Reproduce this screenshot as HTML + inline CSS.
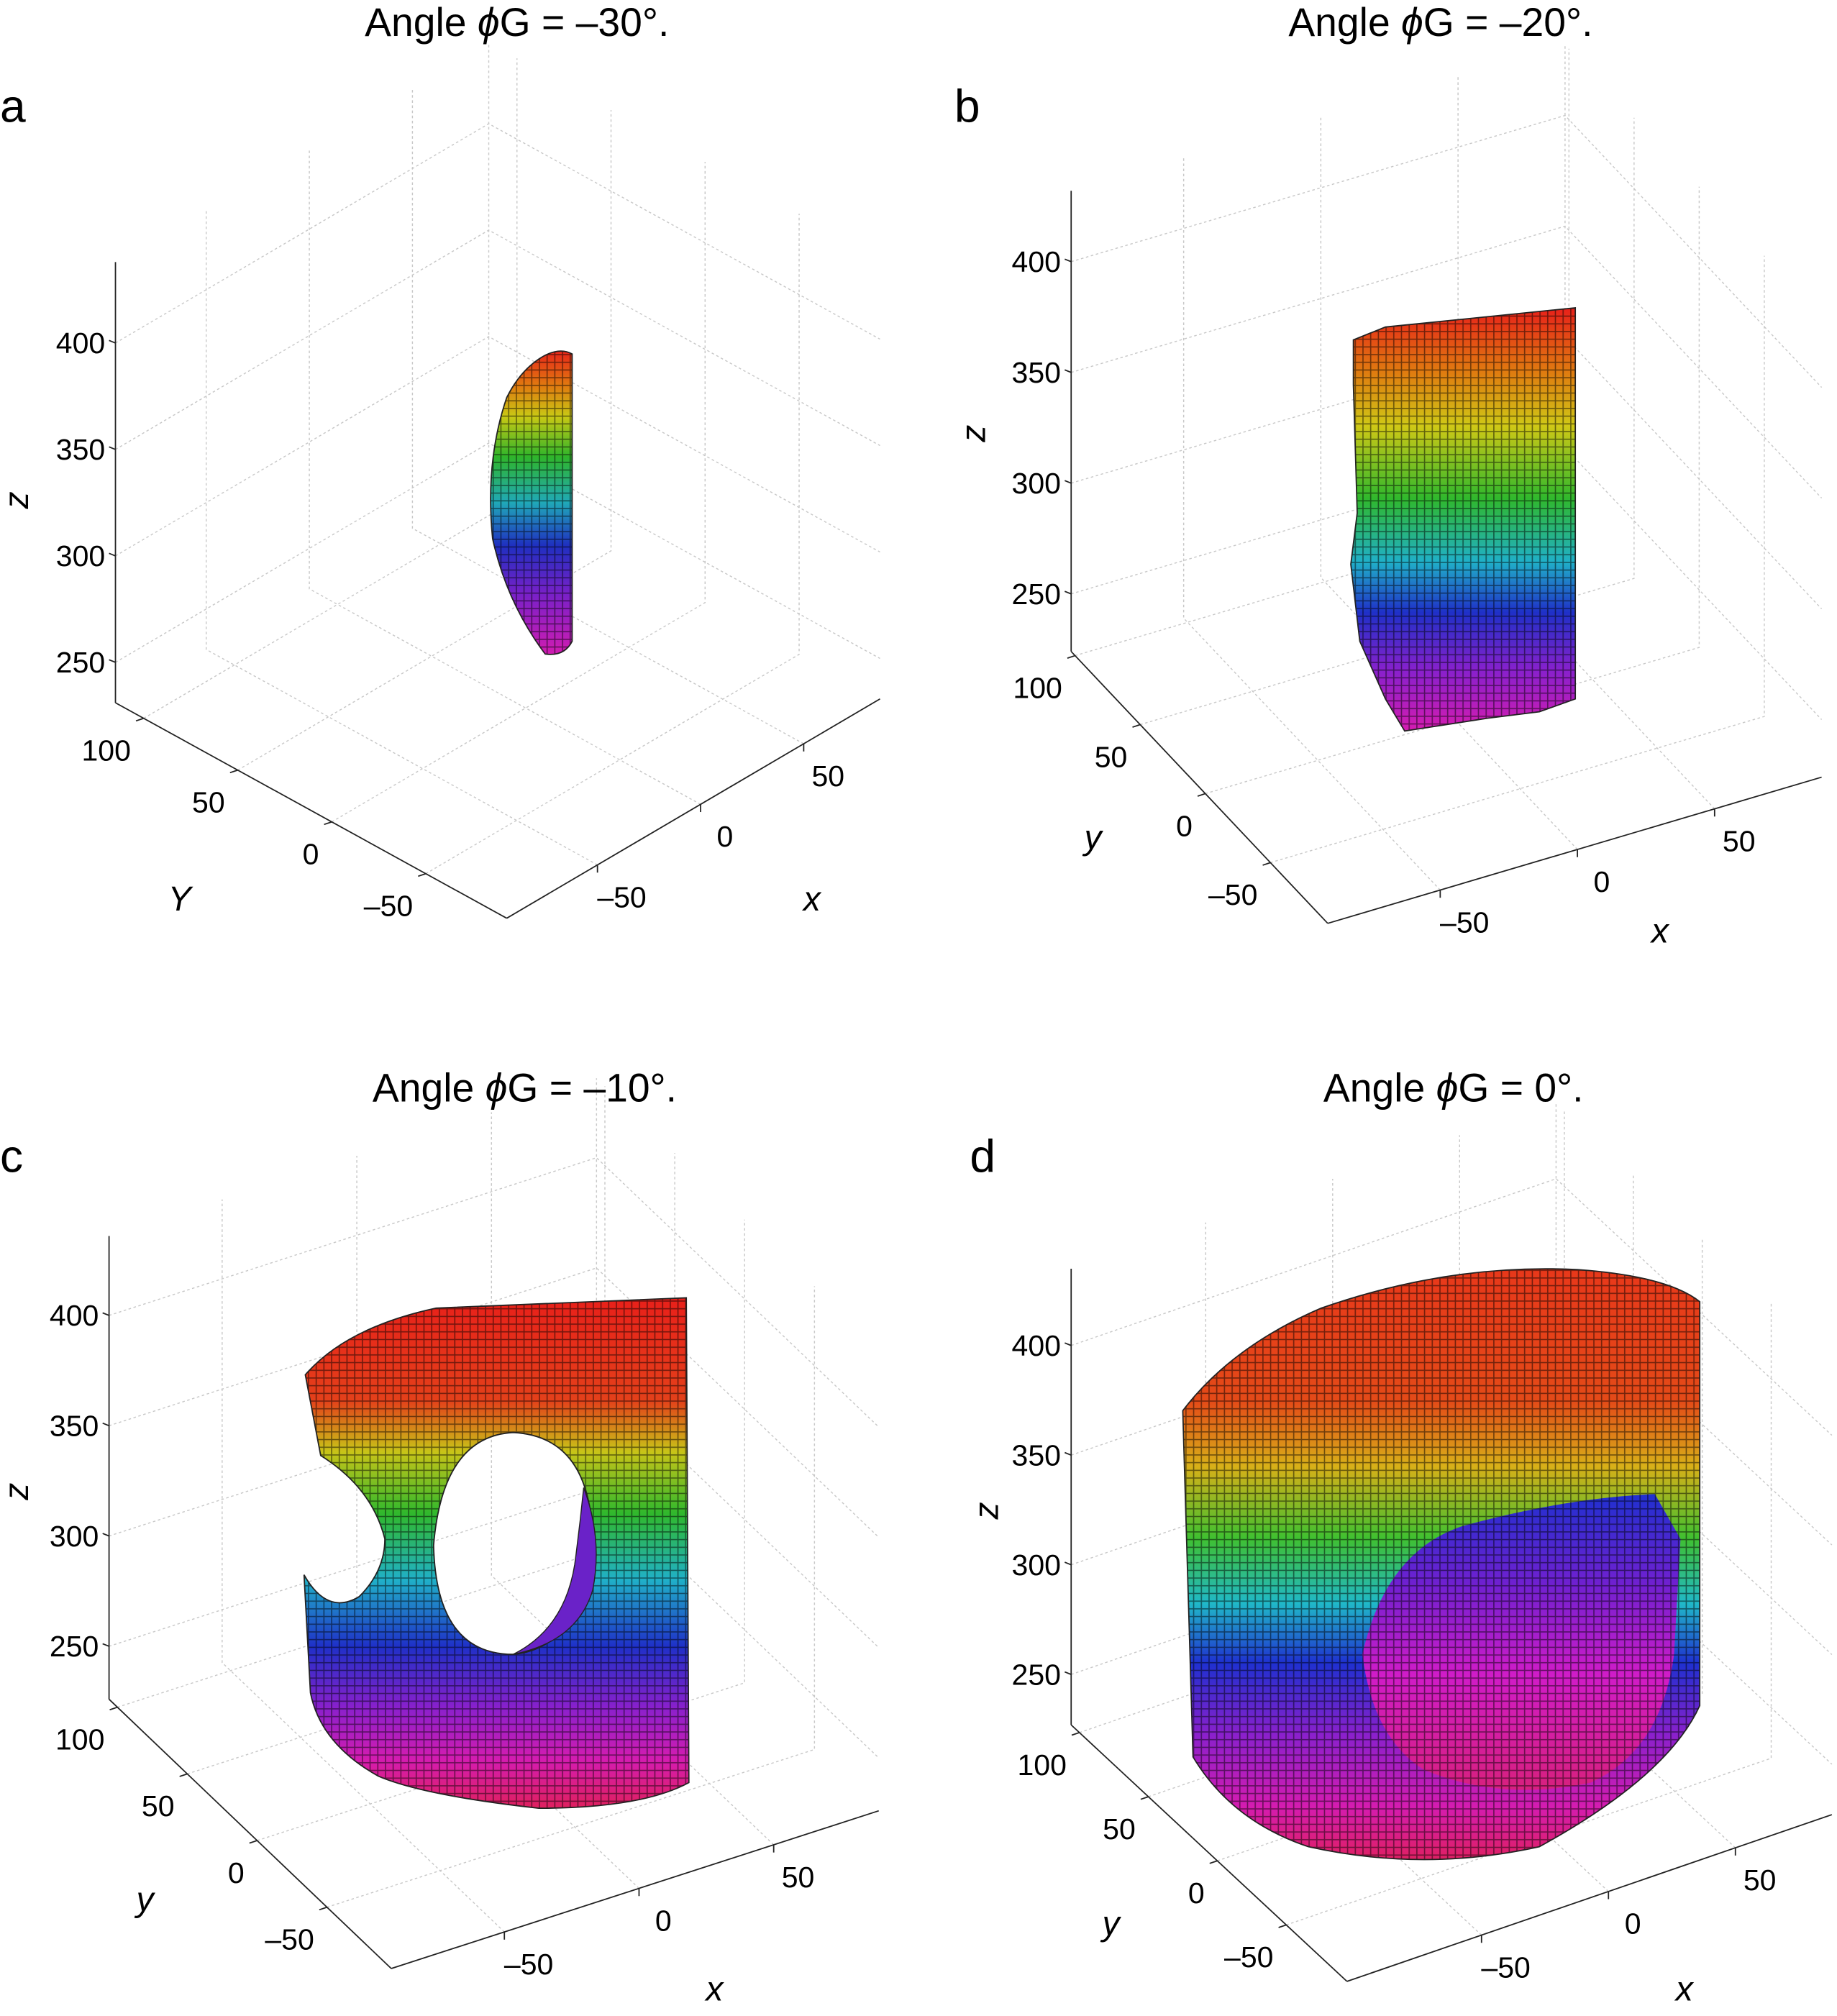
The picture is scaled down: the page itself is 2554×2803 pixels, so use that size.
<!DOCTYPE html>
<html><head><meta charset="utf-8"><style>
html,body{margin:0;padding:0;background:#fff}
svg{display:block}
text{font-family:"Liberation Sans",sans-serif;fill:#000}
</style></head><body>
<svg id="fig" width="2554" height="2803" viewBox="0 0 1432 1572" preserveAspectRatio="none" xmlns="http://www.w3.org/2000/svg">
<defs>
<pattern id="vox" width="6" height="6" patternUnits="userSpaceOnUse">
<path d="M0 0.5H6M0.5 0V6" stroke="#000" stroke-opacity="0.5" stroke-width="0.9" fill="none"/>
</pattern>
<linearGradient id="ga" gradientUnits="userSpaceOnUse" x1="0" y1="272" x2="0" y2="512">
<stop offset="0" stop-color="#e8201a"/><stop offset="0.12" stop-color="#e07a10"/><stop offset="0.22" stop-color="#c9c814"/><stop offset="0.35" stop-color="#2fb52a"/><stop offset="0.5" stop-color="#20a8b8"/><stop offset="0.64" stop-color="#1f2fc0"/><stop offset="0.8" stop-color="#7a20c8"/><stop offset="1" stop-color="#d41cb0"/>
</linearGradient>
<linearGradient id="gb" gradientUnits="userSpaceOnUse" x1="0" y1="240" x2="0" y2="570">
<stop offset="0" stop-color="#e8201a"/><stop offset="0.15" stop-color="#e07a10"/><stop offset="0.28" stop-color="#cfc816"/><stop offset="0.45" stop-color="#30b82c"/><stop offset="0.6" stop-color="#20b0c8"/><stop offset="0.72" stop-color="#1f30c8"/><stop offset="0.86" stop-color="#8a20cc"/><stop offset="1" stop-color="#d41cb0"/>
</linearGradient>
<linearGradient id="gc" gradientUnits="userSpaceOnUse" x1="0" y1="1012" x2="0" y2="1412">
<stop offset="0" stop-color="#e8201a"/><stop offset="0.2" stop-color="#e4401a"/><stop offset="0.3" stop-color="#c8c418"/><stop offset="0.42" stop-color="#30b82c"/><stop offset="0.55" stop-color="#20b0c8"/><stop offset="0.68" stop-color="#1f30c8"/><stop offset="0.8" stop-color="#8a20cc"/><stop offset="0.9" stop-color="#d41cb0"/><stop offset="1" stop-color="#e0205a"/>
</linearGradient>
<linearGradient id="gd" gradientUnits="userSpaceOnUse" x1="0" y1="990" x2="0" y2="1455">
<stop offset="0" stop-color="#e8381a"/><stop offset="0.22" stop-color="#e44a18"/><stop offset="0.33" stop-color="#d8b018"/><stop offset="0.45" stop-color="#40c030"/><stop offset="0.56" stop-color="#20b8c8"/><stop offset="0.66" stop-color="#1f30d0"/><stop offset="0.78" stop-color="#8a20cc"/><stop offset="0.9" stop-color="#d41cb0"/><stop offset="1" stop-color="#e0205a"/>
</linearGradient>
<linearGradient id="gd2" gradientUnits="userSpaceOnUse" x1="0" y1="1165" x2="0" y2="1400">
<stop offset="0" stop-color="#2030d0"/><stop offset="0.3" stop-color="#7020d0"/><stop offset="0.6" stop-color="#d01cc8"/><stop offset="1" stop-color="#d8207a"/>
</linearGradient>
</defs>
<g id="grids"></g>
<g id="shapes">
<g>
<path d="M420,280 Q435,270 446,276 L446,500 Q440,512 425,510 Q395,470 384,420 Q378,360 395,310 Q405,290 420,280 Z" fill="url(#ga)"/>
<path d="M420,280 Q435,270 446,276 L446,500 Q440,512 425,510 Q395,470 384,420 Q378,360 395,310 Q405,290 420,280 Z" fill="url(#vox)" stroke="#222" stroke-width="1"/>
</g>
<g>
<path d="M1055,265 L1080,255 L1228,240 L1228,545 L1200,555 L1160,560 L1095,570 L1080,545 L1060,500 L1053,440 L1058,400 L1055,300 Z" fill="url(#gb)"/>
<path d="M1055,265 L1080,255 L1228,240 L1228,545 L1200,555 L1160,560 L1095,570 L1080,545 L1060,500 L1053,440 L1058,400 L1055,300 Z" fill="url(#vox)" stroke="#222" stroke-width="1"/>
</g>
<g>
<path fill-rule="evenodd" d="M238,1072 Q270,1035 340,1020 L535,1012 L537,1390 Q500,1410 420,1410 Q330,1400 295,1385 Q250,1360 242,1320 L237,1228 Q255,1260 280,1245 Q300,1225 300,1200 Q290,1160 250,1135 L238,1072 Z M400,1117 Q460,1120 462,1200 Q455,1285 400,1290 Q340,1290 338,1205 Q345,1120 400,1117 Z" fill="url(#gc)"/>
<path d="M238,1072 Q270,1035 340,1020 L535,1012 L537,1390 Q500,1410 420,1410 Q330,1400 295,1385 Q250,1360 242,1320 L237,1228 Q255,1260 280,1245 Q300,1225 300,1200 Q290,1160 250,1135 L238,1072 Z M400,1117 Q460,1120 462,1200 Q455,1285 400,1290 Q340,1290 338,1205 Q345,1120 400,1117 Z" fill-rule="evenodd" fill="url(#vox)" stroke="#222" stroke-width="1"/>
<path d="M455,1160 Q470,1200 462,1240 Q450,1280 400,1290 Q440,1270 448,1220 Q452,1190 455,1160 Z" fill="#6a22c8" stroke="#222" stroke-width="0.8"/>
</g>
<g>
<path d="M922,1100 Q960,1050 1030,1020 Q1130,985 1230,990 Q1300,995 1325,1015 L1325,1330 Q1300,1385 1200,1440 Q1110,1460 1020,1440 Q960,1420 930,1370 Z" fill="url(#gd)"/>
<path d="M1062,1290 Q1080,1210 1140,1190 Q1220,1168 1290,1165 L1310,1200 L1305,1290 Q1295,1365 1240,1390 Q1170,1405 1110,1380 Q1070,1355 1062,1290 Z" fill="url(#gd2)"/>
<path d="M922,1100 Q960,1050 1030,1020 Q1130,985 1230,990 Q1300,995 1325,1015 L1325,1330 Q1300,1385 1200,1440 Q1110,1460 1020,1440 Q960,1420 930,1370 Z" fill="url(#vox)" stroke="#222" stroke-width="1"/>
</g>
</g>
<g id="texts">
<text x="403" y="28" font-size="31" text-anchor="middle">Angle <tspan font-style="italic">ϕ</tspan>G = –30°.</text>
<text x="1123" y="28" font-size="31" text-anchor="middle">Angle <tspan font-style="italic">ϕ</tspan>G = –20°.</text>
<text x="409" y="859" font-size="31" text-anchor="middle">Angle <tspan font-style="italic">ϕ</tspan>G = –10°.</text>
<text x="1133" y="859" font-size="31" text-anchor="middle">Angle <tspan font-style="italic">ϕ</tspan>G = 0°.</text>
<text x="0" y="95" font-size="36">a</text>
<text x="744" y="95" font-size="36">b</text>
<text x="0" y="914" font-size="36">c</text>
<text x="756" y="914" font-size="36">d</text>
</g>
</svg>
<script>
const zTicks = [250, 300, 350, 400];
const xTicks = [-50, 0, 50];
const yTicks = [-50, 0, 50, 100];
const panelIds = ['a', 'b', 'c', 'd'];
const xRanges = [[-94, 87], [-91, 89], [-92, 89], [-103, 88]];
const yRanges = [[-93, 115], [-94, 103], [-96, 106], [-94, 106]];
const zRanges = [[231, 438], [224, 432], [226, 436], [227, 435]];
const yAxisNames = ['Y', 'y', 'y', 'y'];

const geom = [
  {F:[395,716], ex:[291,-171], ey:[-305,-168], zs:1.66, lx:[633,710], ly:[140,710], lz:[22,390]},
  {F:[1035,720], ex:[385,-114], ey:[-200,-212], zs:1.727, lx:[1294,735], ly:[852,662], lz:[768,338]},
  {F:[305,1535], ex:[380,-123], ey:[-220,-210], zs:1.72, lx:[557,1560], ly:[113,1490], lz:[22,1163]},
  {F:[1050,1545], ex:[378,-130], ey:[-215,-200], zs:1.71, lx:[1313,1560], ly:[866,1509], lz:[778,1178]}
];
const NS = 'http://www.w3.org/2000/svg';
const gridG = document.getElementById('grids');
function mk(tag, attrs, parent) {
  const e = document.createElementNS(NS, tag);
  for (const k in attrs) e.setAttribute(k, attrs[k]);
  parent.appendChild(e);
  return e;
}
panelIds.forEach((pid, i) => {
  const g = geom[i], xr = xRanges[i], yr = yRanges[i], zr = zRanges[i];
  const P = (x, y, z) => [
    g.F[0] + g.ex[0] * (x - xr[0]) / (xr[1] - xr[0]) + g.ey[0] * (y - yr[0]) / (yr[1] - yr[0]),
    g.F[1] + g.ex[1] * (x - xr[0]) / (xr[1] - xr[0]) + g.ey[1] * (y - yr[0]) / (yr[1] - yr[0]) - (z - zr[0]) * g.zs
  ];
  const pg = mk('g', {}, gridG);
  
  
  const gl = (pts, name) => {
    const el = mk('polyline', {points: pts.map(p => p.join(',')).join(' '), fill: 'none', stroke: '#c8c8c8', 'stroke-width': 0.8, 'stroke-dasharray': '2,2'}, pg);
    
    
  };
  xTicks.forEach(x => gl([P(x, yr[0], zr[0]), P(x, yr[1], zr[0]), P(x, yr[1], zr[1])], 'x-gridline'));
  yTicks.forEach(y => { if (y > yr[0] && y < yr[1]) gl([P(xr[0], y, zr[0]), P(xr[1], y, zr[0]), P(xr[1], y, zr[1])], 'y-gridline'); });
  zTicks.forEach(z => gl([P(xr[0], yr[1], z), P(xr[1], yr[1], z), P(xr[1], yr[0], z)], 'z-gridline'));
  gl([P(xr[1], yr[1], zr[0]), P(xr[1], yr[1], zr[1])], 'back-edge');
  const ax = (a, b, name) => {
    const el = mk('line', {x1: a[0], y1: a[1], x2: b[0], y2: b[1], stroke: '#222', 'stroke-width': 1}, pg);
    
    
  };
  ax(P(xr[0], yr[1], zr[0]), P(xr[0], yr[1], zr[1]), 'z-axis-line');
  ax(P(xr[0], yr[0], zr[0]), P(xr[0], yr[1], zr[0]), 'y-axis-line');
  ax(P(xr[0], yr[0], zr[0]), P(xr[1], yr[0], zr[0]), 'x-axis-line');
  const txt = (x, y, s, anchor, name, extra) => {
    const t = mk('text', Object.assign({x: x, y: y, 'font-size': 23, 'text-anchor': anchor}, extra || {}), pg);
    t.textContent = s;
    
    
  };
  const lab = v => v < 0 ? '–' + Math.abs(v) : String(v);
  zTicks.forEach(z => { const p = P(xr[0], yr[1], z); ax(p, [p[0] - 5, p[1] - 2], 'z-tick'); txt(p[0] - 8, p[1] + 8, lab(z), 'end', 'z-tick-label'); });
  xTicks.forEach(x => { const p = P(x, yr[0], zr[0]); ax(p, [p[0], p[1] + 6], 'x-tick'); txt(p[0] + 19, p[1] + 33, lab(x), 'middle', 'x-tick-label'); });
  yTicks.forEach(y => { if (y > yr[0] && y <= yr[1] + 5) { const p = P(xr[0], y, zr[0]); ax(p, [p[0] - 6, p[1] + 2], 'y-tick'); txt(p[0] - 10, p[1] + 33, lab(y), 'end', 'y-tick-label'); } });
  txt(g.lx[0], g.lx[1], 'x', 'middle', 'x-axis-title', {'font-size': 27, 'font-style': 'italic'});
  txt(g.ly[0], g.ly[1], yAxisNames[i], 'middle', 'y-axis-title', {'font-size': 27, 'font-style': 'italic'});
  txt(g.lz[0], g.lz[1], 'z', 'middle', 'z-axis-title', {'font-size': 27, 'font-style': 'italic', transform: 'rotate(-90 ' + g.lz[0] + ' ' + g.lz[1] + ')'});
});
</script>
</body></html>
